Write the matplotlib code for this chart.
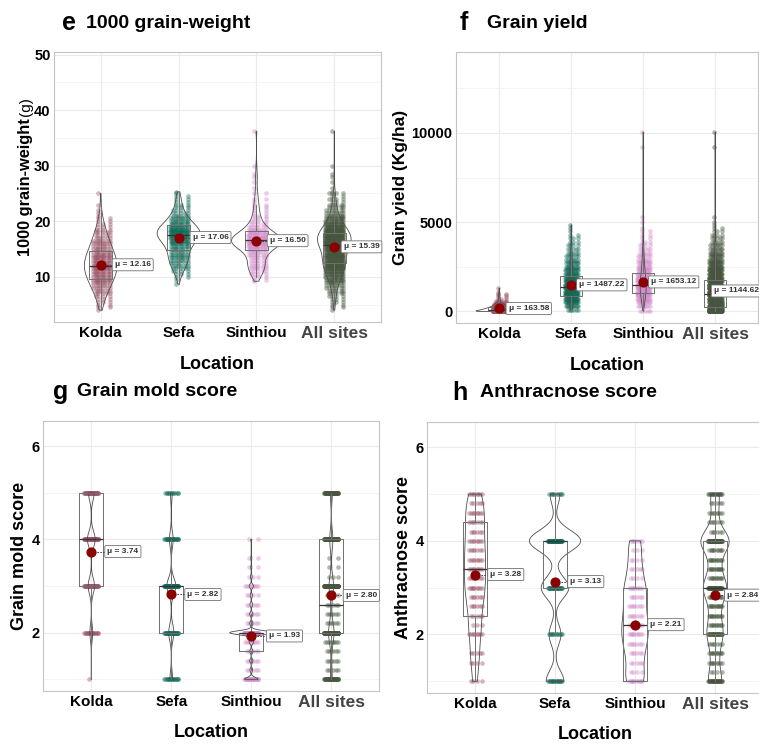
import matplotlib
matplotlib.use("Agg")
import matplotlib.pyplot as plt
import numpy as np

plt.rcParams["font.family"] = ["Liberation Sans", "DejaVu Sans"]

SITES = ["Kolda", "Sefa", "Sinthiou", "All sites"]
SITE_COLORS = ["#9b5467", "#0e6b58", "#d28ccb", "#46573e"]

# ---- e: 1000 grain-weight (g) ----
TGW_KOLDA_VALUES = [4.0, 4.5, 5.0, 5.5, 6.0, 6.5, 7.0, 7.5, 8.0, 8.5, 9.0, 9.5, 10.0, 10.5, 11.0, 11.5,
                    12.0, 12.5, 13.0, 13.5, 14.0, 14.5, 15.0, 15.5, 16.0, 16.5, 17.0, 17.5, 18.0, 18.5,
                    19.0, 19.5, 20.0, 20.5, 21.0, 21.5, 22.0, 23.0, 25.0]
TGW_KOLDA_COUNTS = [1, 2, 2, 3, 3, 4, 5, 6, 7, 8, 9, 10, 11, 12, 12, 13, 13, 13, 12, 12, 11, 10, 9, 8,
                    8, 7, 6, 5, 5, 4, 3, 3, 2, 2, 1, 1, 1, 1, 1]
TGW_SEFA_VALUES = [8.7, 9.5, 10.0, 10.5, 11.0, 11.5, 12.0, 12.5, 13.0, 13.5, 14.0, 14.5, 15.0, 15.5,
                   16.0, 16.5, 17.0, 17.5, 18.0, 18.5, 19.0, 19.5, 20.0, 20.5, 21.0, 21.5, 22.0, 22.5,
                   23.0, 23.5, 24.0, 24.5, 25.0, 25.3]
TGW_SEFA_COUNTS = [1, 1, 2, 3, 4, 5, 6, 7, 8, 8, 8, 8, 9, 10, 12, 14, 16, 18, 18, 17, 15, 12, 10, 8,
                   6, 5, 4, 3, 3, 2, 2, 2, 1, 1]
TGW_SINTHIOU_VALUES = [9.2, 9.5, 10.0, 10.5, 11.0, 11.5, 12.0, 12.5, 13.0, 13.5, 14.0, 14.5, 15.0, 15.5,
                       16.0, 16.5, 17.0, 17.5, 18.0, 18.5, 19.0, 19.5, 20.0, 20.5, 21.0, 21.5, 22.0,
                       22.5, 23.0, 23.5, 24.0, 25.0, 26.0, 27.0, 28.0, 28.5, 30.0, 36.2]
TGW_SINTHIOU_COUNTS = [1, 2, 3, 4, 5, 6, 6, 6, 6, 6, 7, 9, 12, 15, 18, 19, 18, 15, 12, 9, 7, 5, 4, 3,
                       3, 2, 2, 2, 2, 1, 2, 2, 1, 1, 1, 1, 1, 1]
TGW_MEANS = [12.16, 17.06, 16.50, 15.39]
TGW_Q1 = [9.6, 14.8, 14.8, 12.5]
TGW_MEDIAN = [12.0, 17.5, 16.6, 15.7]
TGW_Q3 = [14.6, 19.3, 18.2, 17.8]

# ---- f: grain yield (Kg/ha) ----
GY_KOLDA_VALUES = [0, 50, 100, 150, 200, 250, 300, 350, 400, 450, 500, 600, 700, 800, 900, 1000,
                   1100, 1300]
GY_KOLDA_COUNTS = [60, 35, 30, 25, 20, 15, 12, 10, 8, 6, 5, 4, 3, 2, 2, 2, 1, 1]
GY_SEFA_VALUES = [100, 300, 500, 700, 900, 1100, 1300, 1500, 1700, 1900, 2100, 2300, 2500, 2700,
                  2900, 3100, 3300, 3500, 3700, 3900, 4100, 4300, 4500, 4700, 4850]
GY_SEFA_COUNTS = [6, 12, 18, 24, 28, 30, 30, 28, 25, 22, 18, 15, 12, 10, 8, 7, 6, 5, 4, 3, 3, 2, 1,
                  1, 1]
GY_SINTHIOU_VALUES = [50, 300, 500, 700, 900, 1100, 1300, 1500, 1700, 1900, 2100, 2300, 2500, 2700,
                      2900, 3100, 3300, 3500, 3700, 3900, 4100, 4300, 4500, 4700, 5000, 5300, 9200,
                      10050]
GY_SINTHIOU_COUNTS = [5, 8, 12, 16, 20, 23, 25, 25, 23, 20, 17, 14, 12, 10, 8, 7, 6, 5, 4, 3, 2, 2,
                      2, 1, 1, 1, 1, 1]
GY_MEANS = [163.58, 1487.22, 1653.12, 1144.62]
GY_Q1 = [0, 880, 1030, 250]
GY_MEDIAN = [60, 1370, 1500, 1000]
GY_Q3 = [230, 2000, 2150, 1740]

# ---- g: grain mold score ----
GM_KOLDA_VALUES = [1, 2, 3, 4, 5]
GM_KOLDA_COUNTS = [1, 20, 45, 55, 40]
GM_SEFA_VALUES = [1, 2, 3, 4, 5]
GM_SEFA_COUNTS = [18, 35, 60, 25, 12]
GM_SINTHIOU_VALUES = [1.0, 1.2, 1.4, 1.6, 1.8, 2.0, 2.2, 2.4, 2.6, 2.8, 3.0, 3.2, 3.4, 3.6, 4.0]
GM_SINTHIOU_COUNTS = [25, 5, 6, 6, 8, 80, 6, 6, 5, 4, 8, 3, 2, 2, 2]
GM_MEANS = [3.74, 2.82, 1.93, 2.80]
GM_Q1 = [3.0, 2.0, 1.6, 2.0]
GM_MEDIAN = [4.0, 3.0, 2.0, 2.6]
GM_Q3 = [5.0, 3.0, 2.0, 4.0]

# ---- h: anthracnose score ----
AN_KOLDA_VALUES = [1.0, 1.4, 1.6, 2.0, 2.2, 2.4, 2.6, 2.8, 3.0, 3.2, 3.4, 3.6, 3.8, 4.0, 4.2, 4.4,
                   4.6, 4.8, 5.0]
AN_KOLDA_COUNTS = [4, 4, 5, 8, 3, 5, 6, 6, 9, 7, 8, 8, 7, 8, 6, 7, 8, 5, 8]
AN_SEFA_VALUES = [1, 2, 3, 4, 5]
AN_SEFA_COUNTS = [18, 12, 28, 52, 10]
AN_SINTHIOU_VALUES = [1.0, 1.2, 1.4, 1.6, 1.8, 2.0, 2.2, 2.4, 2.6, 2.8, 3.0, 3.2, 3.4, 3.6, 3.8, 4.0]
AN_SINTHIOU_COUNTS = [10, 4, 5, 6, 7, 9, 8, 7, 7, 6, 9, 4, 5, 4, 3, 6]
AN_MEANS = [3.28, 3.13, 2.21, 2.84]
AN_Q1 = [2.4, 3.0, 1.0, 2.0]
AN_MEDIAN = [3.4, 4.0, 2.2, 3.0]
AN_Q3 = [4.4, 4.0, 3.0, 4.0]

W, H = 759, 745


def merge_levels(pairs):
    vals = np.concatenate([np.asarray(v, float) for v, _ in pairs])
    cnts = np.concatenate([np.asarray(c, int) for _, c in pairs])
    levels = np.unique(vals)
    totals = np.array([cnts[vals == lv].sum() for lv in levels])
    return levels, totals


def kde_curve(data, bw_adjust):
    n = data.size
    sd = data.std(ddof=1)
    q75, q25 = np.percentile(data, [75, 25])
    spread = min(sd, (q75 - q25) / 1.34) if q75 > q25 else sd
    bw = 0.9 * spread * n ** -0.2 * bw_adjust
    grid = np.linspace(data.min(), data.max(), 512)
    dens = np.exp(-0.5 * ((grid[:, None] - data[None, :]) / bw) ** 2).sum(axis=1)
    dens /= n * bw * np.sqrt(2 * np.pi)
    return grid, dens


def jitter(counts, half):
    offs = []
    for c in counts:
        k = np.arange(c)
        offs.append(((k * 0.6180339887 + 0.37) % 1.0 - 0.5) * 2 * half)
    return np.concatenate(offs)


def draw_panel(ax, groups, means, q1, med, q3, label_dx, bw_adjust=1.0, jit=0.09, vscale=0.32):
    xs = np.arange(1, 5)
    datas, curves = [], []
    for vals, cnts in groups:
        data = np.repeat(np.asarray(vals, float), cnts)
        datas.append(data)
        curves.append(kde_curve(data, bw_adjust))
    peak = max(d.max() for _, d in curves)

    for i, x in enumerate(xs):
        vals, cnts = groups[i]
        ax.scatter(x + jitter(cnts, jit), datas[i], s=11, color=SITE_COLORS[i],
                   alpha=0.42, linewidths=0, zorder=2)
        grid, dens = curves[i]
        hw = vscale * dens / peak
        ax.fill_betweenx(grid, x - hw, x + hw, facecolor="none", edgecolor="#4d4d4d",
                         linewidth=0.6, zorder=3)

    stats = []
    for i in range(4):
        data = datas[i]
        iqr = q3[i] - q1[i]
        stats.append(dict(med=med[i], q1=q1[i], q3=q3[i],
                          whislo=data[data >= q1[i] - 1.5 * iqr].min(),
                          whishi=data[data <= q3[i] + 1.5 * iqr].max(), fliers=[]))
    ax.bxp(stats, positions=xs, widths=0.3, showfliers=False, showcaps=False,
           manage_ticks=False, zorder=4,
           boxprops=dict(color="#707070", linewidth=0.7),
           whiskerprops=dict(color="#707070", linewidth=0.7),
           medianprops=dict(color="#333333", linewidth=0.9))

    ax.scatter(xs, means, s=40, color="#8b0000", zorder=6)
    for i, x in enumerate(xs):
        xl = x + label_dx[i]
        ax.plot([x, xl], [means[i], means[i]], color="#333333", linewidth=0.6,
                linestyle=(0, (2, 1.5)), zorder=5)
        ax.text(xl, means[i], "\u03bc = {:.2f}".format(means[i]), ha="left", va="center",
                fontsize=6, fontweight="bold", color="#333333", zorder=7,
                bbox=dict(boxstyle="round,pad=0.3,rounding_size=0.15", facecolor="white",
                          edgecolor="#707070", linewidth=0.6))


def style_axes(ax, ylim, major, minor, ylabel, ylab_size, ylab_x, xlab_y):
    ax.set_xlim(0.4, 4.6)
    ax.set_ylim(*ylim)
    ax.set_xticks(np.arange(1, 5))
    ax.set_xticklabels(SITES, fontsize=11, fontweight="bold")
    last = ax.get_xticklabels()[-1]
    last.set_fontsize(12.5)
    last.set_color("#444444")
    ax.set_yticks(major)
    ax.set_yticks(minor, minor=True)
    ax.tick_params(axis="both", which="both", length=0)
    ax.tick_params(axis="y", labelsize=10.5, pad=2.5)
    ax.tick_params(axis="x", pad=3)
    for lab in ax.get_yticklabels():
        lab.set_fontweight("bold")
    ax.grid(True, which="major", color="#ebebeb", linewidth=0.8, zorder=0)
    ax.grid(True, which="minor", axis="y", color="#f2f2f2", linewidth=0.6, zorder=0)
    ax.set_axisbelow(True)
    for sp in ax.spines.values():
        sp.set_color("#c4c4c4")
        sp.set_linewidth(0.8)
    ax.set_xlabel("Location", fontsize=13, fontweight="bold")
    ax.xaxis.set_label_coords(0.5, xlab_y)
    ax.set_ylabel(ylabel, fontsize=ylab_size, fontweight="bold")
    ax.yaxis.set_label_coords(ylab_x, 0.5)


def add_axes(fig, left, top, right, bottom):
    return fig.add_axes([left / W, 1 - bottom / H, (right - left) / W, (bottom - top) / H])


fig = plt.figure(figsize=(W / 100, H / 100), dpi=100)
fig.patch.set_facecolor("white")

# panel e
ax_e = add_axes(fig, 54, 52, 381, 322)
draw_panel(ax_e,
           [(TGW_KOLDA_VALUES, TGW_KOLDA_COUNTS), (TGW_SEFA_VALUES, TGW_SEFA_COUNTS),
            (TGW_SINTHIOU_VALUES, TGW_SINTHIOU_COUNTS),
            merge_levels([(TGW_KOLDA_VALUES, TGW_KOLDA_COUNTS), (TGW_SEFA_VALUES, TGW_SEFA_COUNTS),
                          (TGW_SINTHIOU_VALUES, TGW_SINTHIOU_COUNTS)])],
           TGW_MEANS, TGW_Q1, TGW_MEDIAN, TGW_Q3, [0.18, 0.18, 0.17, 0.12], jit=0.12)
style_axes(ax_e, (1.86, 50.47), [10, 20, 30, 40, 50], [5, 15, 25, 35, 45],
           "1000 grain-weight", 11.8, -0.063, -0.126)
ax_e.annotate("(g)", xy=(0.5, 1.0), xycoords=ax_e.yaxis.label, xytext=(0, 1.5),
              textcoords="offset points", rotation=90, ha="center", va="bottom", fontsize=11)

# panel f
ax_f = add_axes(fig, 456, 52, 758.4, 323)
draw_panel(ax_f,
           [(GY_KOLDA_VALUES, GY_KOLDA_COUNTS), (GY_SEFA_VALUES, GY_SEFA_COUNTS),
            (GY_SINTHIOU_VALUES, GY_SINTHIOU_COUNTS),
            merge_levels([(GY_KOLDA_VALUES, GY_KOLDA_COUNTS), (GY_SEFA_VALUES, GY_SEFA_COUNTS),
                          (GY_SINTHIOU_VALUES, GY_SINTHIOU_COUNTS)])],
           GY_MEANS, GY_Q1, GY_MEDIAN, GY_Q3, [0.13, 0.11, 0.11, -0.02], jit=0.09)
style_axes(ax_f, (-650, 14540), [0, 5000, 10000], [2500, 7500, 12500],
           "Grain yield (Kg/ha)", 12.5, -0.159, -0.126)

# panel g
ax_g = add_axes(fig, 43.3, 421, 379.3, 691)
draw_panel(ax_g,
           [(GM_KOLDA_VALUES, GM_KOLDA_COUNTS), (GM_SEFA_VALUES, GM_SEFA_COUNTS),
            (GM_SINTHIOU_VALUES, GM_SINTHIOU_COUNTS),
            merge_levels([(GM_KOLDA_VALUES, GM_KOLDA_COUNTS), (GM_SEFA_VALUES, GM_SEFA_COUNTS),
                          (GM_SINTHIOU_VALUES, GM_SINTHIOU_COUNTS)])],
           GM_MEANS, GM_Q1, GM_MEDIAN, GM_Q3, [0.2, 0.2, 0.22, 0.18], bw_adjust=0.7,
           vscale=0.27)
style_axes(ax_g, (0.75, 6.54), [2, 4, 6], [1, 3, 5], "Grain mold score", 13, -0.045, -0.122)

# panel h
ax_h = add_axes(fig, 427, 422, 763, 693)
draw_panel(ax_h,
           [(AN_KOLDA_VALUES, AN_KOLDA_COUNTS), (AN_SEFA_VALUES, AN_SEFA_COUNTS),
            (AN_SINTHIOU_VALUES, AN_SINTHIOU_COUNTS),
            merge_levels([(AN_KOLDA_VALUES, AN_KOLDA_COUNTS), (AN_SEFA_VALUES, AN_SEFA_COUNTS),
                          (AN_SINTHIOU_VALUES, AN_SINTHIOU_COUNTS)])],
           AN_MEANS, AN_Q1, AN_MEDIAN, AN_Q3, [0.19, 0.19, 0.19, 0.15], bw_adjust=0.7)
style_axes(ax_h, (0.75, 6.54), [2, 4, 6], [1, 3, 5], "Anthracnose score", 13, -0.046, -0.122)

# panel titles
for letter, lx, tx, ty, title in [("e", 62, 86, 23, "1000 grain-weight"),
                                  ("f", 460, 487, 23, "Grain yield"),
                                  ("g", 53, 77, 392, "Grain mold score"),
                                  ("h", 452, 480, 393, "Anthracnose score")]:
    fig.text(lx / W, 1 - ty / H, letter, fontsize=18, fontweight="bold", va="center", ha="left")
    fig.text(tx / W, 1 - ty / H, title, fontsize=14, fontweight="bold", va="center", ha="left")

fig.savefig("out.png", dpi=100, facecolor="white")
